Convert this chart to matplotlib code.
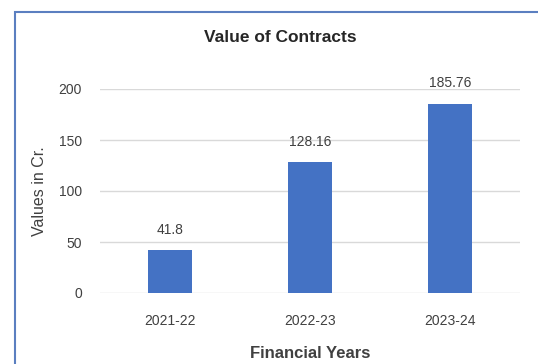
import matplotlib
matplotlib.use("Agg")
import matplotlib.pyplot as plt
from matplotlib.patches import Rectangle

years = ["2021-22", "2022-23", "2023-24"]
values = [41.8, 128.16, 185.76]
yticks = [0, 50, 100, 150, 200]

plt.rcParams["font.family"] = ["Liberation Sans", "DejaVu Sans"]

fig = plt.figure(figsize=(5.38, 3.64), dpi=100)
fig.patch.set_facecolor("white")

# chart frame, cut off at right and bottom
frame = Rectangle((15 / 538, -0.1), 1.2, 1 - 12 / 364 + 0.1, transform=fig.transFigure,
                  facecolor="white", edgecolor="#5b7fc0", linewidth=1.5, zorder=-5)
fig.patches.append(frame)

ax = fig.add_axes([100 / 538, 1 - 293 / 364, 420 / 538, 204 / 364])
ax.set_zorder(2)
ax.set_facecolor("none")
x = range(len(years))
bars = ax.bar(x, values, width=0.31, color="#4472c4", zorder=3)
for xi, v in zip(x, values):
    ax.annotate(f"{v:g}", (xi, v), xytext=(0, 14.5), textcoords="offset points",
                ha="center", va="center", fontsize=10, color="#404040")

ax.set_xlim(-0.5, 2.5)
ax.set_ylim(0, 200)
ax.set_yticks(yticks)
ax.set_xticks(list(x))
ax.set_xticklabels(years)
ax.yaxis.grid(True, color="#d9d9d9", linewidth=1, zorder=0)
ax.set_axisbelow(True)
ax.tick_params(axis="both", length=0, labelsize=10, labelcolor="#404040")
ax.tick_params(axis="y", pad=13)
ax.tick_params(axis="x", pad=15)
for s in ax.spines.values():
    s.set_visible(False)
ax.set_xlabel("Financial Years", fontsize=12, fontweight="bold", color="#404040", labelpad=13)
ax.set_ylabel("Values in Cr.", fontsize=11.5, color="#404040", labelpad=8)
fig.text(280 / 538, 1 - 38 / 364, "Value of Contracts", ha="center", va="center",
         fontsize=12.5, fontweight="bold", color="#262626")

fig.savefig("out.png", dpi=100)
